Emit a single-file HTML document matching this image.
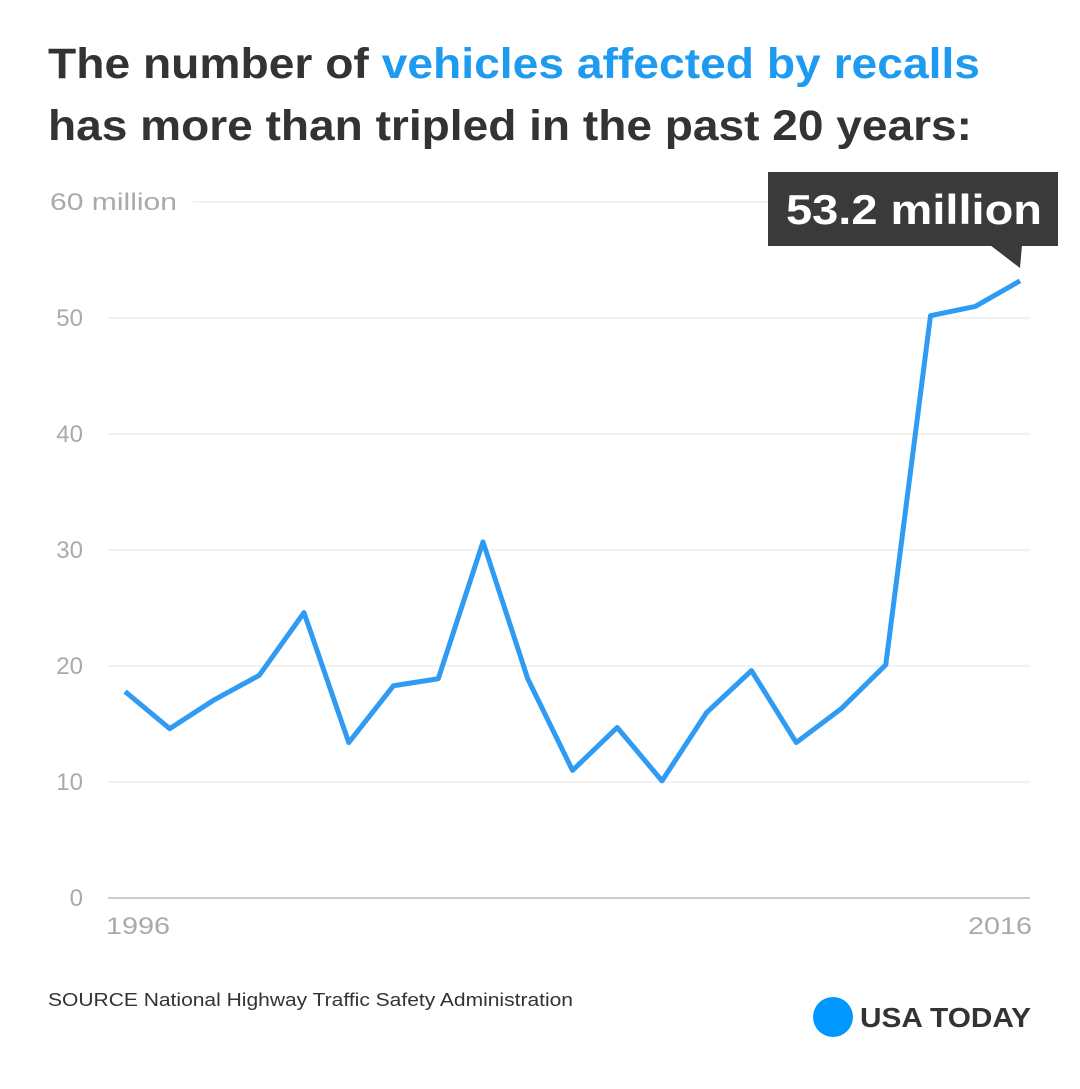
<!DOCTYPE html>
<html><head><meta charset="utf-8"><style>
body{margin:0;background:#fff;width:1080px;height:1084px;overflow:hidden;font-family:"Liberation Sans",sans-serif}
</style></head><body>
<svg width="1080" height="1084" viewBox="0 0 1080 1084">
<text x="48" y="78" font-size="43" font-weight="bold" fill="#333" textLength="932" lengthAdjust="spacingAndGlyphs">The number of <tspan fill="#1e9bf0">vehicles affected by recalls</tspan></text>
<text x="48" y="140" font-size="43" font-weight="bold" fill="#333" textLength="924" lengthAdjust="spacingAndGlyphs">has more than tripled in the past 20 years:</text>
<g id="grid"></g>
<g id="ylabels"></g>
<path id="line" fill="none" stroke="#2f9bf3" stroke-width="5" stroke-linejoin="round"/>
<text x="106" y="934" font-size="24" fill="#aaa" textLength="64" lengthAdjust="spacingAndGlyphs">1996</text>
<text x="968" y="934" font-size="24" fill="#aaa" textLength="64" lengthAdjust="spacingAndGlyphs">2016</text>
<g>
<rect x="768" y="172" width="290" height="74" fill="#3a3a3a"/>
<polygon points="990,245 1022,245 1020,268" fill="#3a3a3a"/>
<text x="786" y="224" font-size="42" font-weight="bold" fill="#fff" textLength="256" lengthAdjust="spacingAndGlyphs">53.2 million</text>
</g>
<text x="48" y="1006" font-size="18" fill="#333" textLength="525" lengthAdjust="spacingAndGlyphs">SOURCE National Highway Traffic Safety Administration</text>
<circle cx="833" cy="1017" r="20" fill="#0098fe"/>
<text x="860" y="1027" font-size="28" font-weight="bold" fill="#333" textLength="171" lengthAdjust="spacingAndGlyphs">USA TODAY</text>
</svg>
<script>
const years=[1996,1997,1998,1999,2000,2001,2002,2003,2004,2005,2006,2007,2008,2009,2010,2011,2012,2013,2014,2015,2016];
const vehicles=[17.8,14.6,17.1,19.2,24.6,13.4,18.3,18.9,30.7,18.9,11.0,14.7,10.1,16.0,19.6,13.4,16.3,20.1,50.2,51.0,53.2];
const yTicks=[0,10,20,30,40,50,60];
const yTickLabels=["0","10","20","30","40","50","60 million"];
const ns="http://www.w3.org/2000/svg";
const x=yr=>125+(yr-1996)*(1020-125)/20;
const y=v=>898-v*11.6;
const grid=document.getElementById('grid'),yl=document.getElementById('ylabels');
yTicks.forEach((t,i)=>{
 const l=document.createElementNS(ns,'line');
 
 
 l.setAttribute('x1',t===60?193:108);l.setAttribute('x2',1030);
 l.setAttribute('y1',y(t));l.setAttribute('y2',y(t));
 l.setAttribute('stroke',t===0?'#ccc':'#e6e6e6');l.setAttribute('stroke-width',t===0?2:1);
 grid.appendChild(l);
 const tx=document.createElementNS(ns,'text');
 
 
 tx.setAttribute('x',t===60?50:83);tx.setAttribute('y',y(t)+8);
 if(t!==60)tx.setAttribute('text-anchor','end');
 else{tx.setAttribute('textLength','127');tx.setAttribute('lengthAdjust','spacingAndGlyphs');}
 tx.setAttribute('font-size','24');tx.setAttribute('fill','#aaa');
 tx.textContent=yTickLabels[i];yl.appendChild(tx);
});
document.getElementById('line').setAttribute('d',years.map((yr,i)=>(i?'L':'M')+x(yr)+','+y(vehicles[i])).join(''));
</script>
</body></html>
